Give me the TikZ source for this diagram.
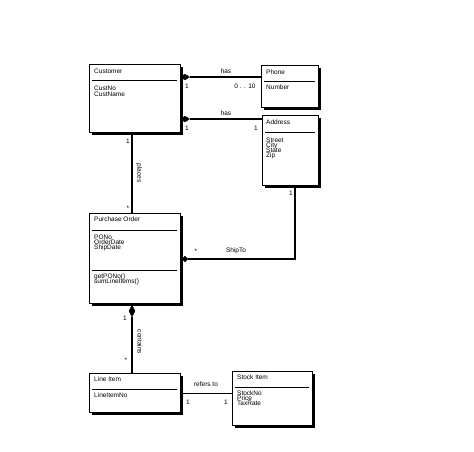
\documentclass[tikz,border=0pt]{standalone}
\usepackage{fontspec}
\setmainfont{Liberation Sans}
\usetikzlibrary{shapes.geometric}
\begin{document}
\begin{tikzpicture}[x=1pt,y=-1pt,
 box/.style={draw,line width=0.8pt,fill=white},
 shadow/.style={fill=black},
 txt/.style={font=\fontsize{6.5}{7}\selectfont,anchor=north west,inner sep=0pt,align=left},
 lbl/.style={font=\fontsize{6.5}{7}\selectfont,inner sep=0pt},
 ln/.style={line width=1.1pt},
 dia/.style={diamond,fill=black,draw,inner sep=0pt,minimum width=9pt,minimum height=6pt}]
\useasboundingbox (0,0) rectangle (474,451);
% boxes: shadow then box
\foreach \a/\b/\c/\d in {89/64/180/132, 261/65/318/107, 262/115/318/185, 89/213/180/303, 89/373/180/412, 232/371/312/425}{
  \fill (\a+2.5,\b+2.5) rectangle (\c+2.5,\d+2.5);
  \draw[box] (\a,\b) rectangle (\c,\d);
}
\draw (92,80) -- (177,80);
\draw (264,81) -- (315,81);
\draw (265,132) -- (315,132);
\draw (92,230) -- (177,230);
\draw (92,270) -- (177,270);
\draw (92,389) -- (177,389);
\draw (235,387) -- (309,387);
\node[txt] (cust) at (94,69) {Customer};
\node[txt] (custa) at (94,86) {CustNo\\[-1pt]CustName};
\node[txt] (ph) at (266,70) {Phone};
\node[txt] (pha) at (266,85) {Number};
\node[txt] (ad) at (266,120) {Address};
\node[txt] (ada) at (266,138) {Street\\[-2pt]City\\[-2pt]State\\[-2pt]Zip};
\node[txt] (po) at (94,217) {Purchase Order};
\node[txt] (poa) at (94,235) {PONo\\[-2pt]OrderDate\\[-2pt]ShipDate};
\node[txt] (pom) at (94,274) {getPONo()\\[-2pt]sumLineItems()};
\node[txt] (li) at (94,377) {Line Item};
\node[txt] (lia) at (94,393) {LineItemNo};
\node[txt] (si) at (237,375) {Stock Item};
\node[txt] (sia) at (237,391) {StockNo\\[-2pt]Price\\[-2pt]TaxRate};
% connectors
\coordinate (c1) at (180,77); \coordinate (p1) at (261,77);
\coordinate (c2) at (180,119); \coordinate (a2) at (262,119);
\node[dia] (d1) at (185,77) {};
\node[dia] (d2) at (185,119) {};
\draw[ln] (d1.east) -- (p1);
\draw[ln] (d2.east) -- (a2);
\node[lbl] at (226,71) {has};
\node[lbl] at (226,113) {has};
\node[lbl] at (187,86) {1};
\node[lbl] at (187,128) {1};
\node[lbl] at (245,86) {0 . . 10};
\node[lbl] at (256,128) {1};
\coordinate (cb) at (132,132); \coordinate (pt) at (132,213);
\draw[ln] (cb) -- (pt);
\node[lbl] at (128,141) {1};
\node[lbl] at (128,208) {*};
\node[lbl,rotate=-90] at (139,173) {places};
\node[dia,minimum width=6pt,minimum height=6pt,diamond] (d3) at (185,259) {};
\coordinate (s1) at (295,259); \coordinate (s2) at (295,185);
\draw[ln] (d3.east) -- (s1) -- (s2);
\node[lbl] at (196,251) {*};
\node[lbl] at (236,251) {ShipTo};
\node[lbl] at (291,193) {1};
\node[dia,minimum width=6pt,minimum height=12pt] (d4) at (132,311) {};
\coordinate (lt) at (132,373);
\draw[ln] (d4.south) -- (lt);
\node[lbl] at (125,318) {1};
\node[lbl] at (126,360) {*};
\node[lbl,rotate=-90] at (140,342) {contains};
\coordinate (l1) at (180,393); \coordinate (l2) at (232,393);
\draw[line width=0.8pt] (l1) -- (l2);
\node[lbl] at (206,384) {refers to};
\node[lbl] at (188,402) {1};
\node[lbl] at (226,402) {1};
\end{tikzpicture}
\end{document}
